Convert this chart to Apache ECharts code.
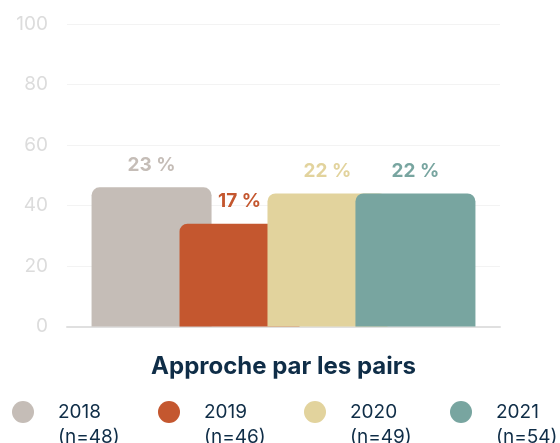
<!DOCTYPE html>
<html>
<head>
<meta charset="utf-8">
<script src="https://cdn.jsdelivr.net/npm/echarts@6/dist/echarts.min.js"></script>
<style>html,body{margin:0;padding:0;background:#fff;}#c{width:560px;height:443px;}</style>
</head>
<body>
<div id="c"></div>
<script>
const categories = ['Approche par les pairs'];
const years = ['2018', '2019', '2020', '2021'];
const sampleSizes = ['(n=48)', '(n=46)', '(n=49)', '(n=54)'];
const values = [46, 34, 44, 44];
const valueLabels = ['23 %', '17 %', '22 %', '22 %'];
const yTicks = [0, 20, 40, 60, 80, 100];

const colors = ['#c5bdb7', '#c4572f', '#e2d39d', '#78a5a0'];
const FONT = 'Inter, "Noto Sans", sans-serif';
const NAVY = '#0f2d47';
const legendLeft = [12, 158, 304, 450];

const chart = echarts.init(document.getElementById('c'), null, {renderer: 'canvas'});
const series = years.map((y, i) => ({
  name: y,
  type: 'bar',
  data: [values[i]],
  barWidth: 120,
  barGap: '-26.7%',
  itemStyle: {color: colors[i], borderRadius: [8, 8, 0, 0]},
  label: {
    show: true,
    position: 'top',
    distance: 13,
    formatter: () => valueLabels[i],
    color: colors[i],
    fontFamily: FONT,
    fontWeight: 'bold',
    fontSize: 19
  }
}));

const legendText = {color: NAVY, fontFamily: FONT, fontSize: 19, padding: [0, 0, 0, 19]};
const legends = [];
years.forEach((y, i) => {
  const base = {
    left: legendLeft[i],
    padding: 0,
    itemWidth: 22,
    itemHeight: 22,
    selectedMode: false,
    data: [y],
    textStyle: legendText
  };
  legends.push(Object.assign({}, base, {top: 401, icon: 'circle'}));
  legends.push(Object.assign({}, base, {
    top: 426,
    icon: 'none',
    formatter: () => sampleSizes[i]
  }));
});

chart.setOption({
  animation: false,
  color: colors,
  grid: {left: 67, right: 60, top: 24, bottom: 116.5},
  xAxis: {
    type: 'category',
    data: categories,
    axisTick: {show: false},
    axisLine: {show: true, lineStyle: {color: '#e0e0e0', width: 2}},
    axisLabel: {
      margin: 28,
      color: NAVY,
      fontFamily: FONT,
      fontWeight: 'bold',
      fontSize: 24
    }
  },
  yAxis: {
    type: 'value',
    min: yTicks[0],
    max: yTicks[yTicks.length - 1],
    interval: 20,
    axisLine: {show: false},
    axisTick: {show: false},
    splitLine: {lineStyle: {color: '#f3f3f3', width: 1}},
    axisLabel: {
      margin: 19,
      color: '#dcdcdc',
      fontFamily: FONT,
      fontSize: 19
    }
  },
  legend: legends,
  series: series
});
</script>
</body>
</html>
